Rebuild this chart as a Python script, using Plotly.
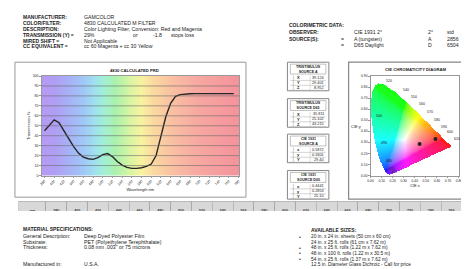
import numpy as np
import plotly.graph_objects as go

W, H = 469, 269
def px(x): return x / W
def py(y): return 1 - y / H

FONT = "Liberation Sans"

# ---------------- data ----------------
wavelengths = list(range(380, 780, 10))
transmission = [45, 51, 56, 53, 45, 37, 29, 22.5, 18.5, 16.8,
                16.2, 18, 21, 22, 19, 14, 10.5, 8.2, 7.2, 7.2,
                7.8, 9.2, 11.5, 20, 39, 59, 72.5, 79.5, 81.3, 82,
                82.2, 82.3, 82.3, 82.3, 82.3, 82.3, 82.3, 82.3, 82.3, 82.3]
xtick_vals = list(range(380, 800, 20))
ytick_vals = list(range(0, 110, 10))

# CIE 1931 spectral locus
locus_wl = [380, 400, 420, 440, 450, 460, 465, 470, 475, 480, 485, 490, 495, 500,
            505, 510, 515, 520, 525, 530, 540, 550, 560, 570, 580, 590, 600, 610,
            620, 630, 640, 650, 680, 700]
locus_x = [0.1741, 0.1733, 0.1714, 0.1644, 0.1566, 0.1440, 0.1355, 0.1241, 0.1096,
           0.0913, 0.0687, 0.0454, 0.0235, 0.0082, 0.0039, 0.0139, 0.0389, 0.0743,
           0.1142, 0.1547, 0.2296, 0.3016, 0.3731, 0.4441, 0.5125, 0.5752, 0.6270,
           0.6658, 0.6915, 0.7079, 0.7190, 0.7260, 0.7320, 0.7347]
locus_y = [0.0050, 0.0048, 0.0051, 0.0109, 0.0177, 0.0297, 0.0399, 0.0578, 0.0868,
           0.1327, 0.2007, 0.2950, 0.4127, 0.5384, 0.6548, 0.7502, 0.8120, 0.8338,
           0.8262, 0.8059, 0.7543, 0.6923, 0.6245, 0.5547, 0.4866, 0.4242, 0.3725,
           0.3340, 0.3083, 0.2920, 0.2809, 0.2740, 0.2680, 0.2653]
locus_label_wl = [460, 470, 480, 490, 500, 520, 540, 550, 560, 570, 580, 590, 600, 620]
filter_x = [0.587, 0.444]
filter_y = [0.330, 0.285]
cie_xticks = [0.0, 0.1, 0.2, 0.3, 0.4, 0.5, 0.6, 0.7, 0.8]
cie_yticks = [0.0, 0.1, 0.2, 0.3, 0.4, 0.5, 0.6, 0.7, 0.8, 0.9]

header_labels = ["MANUFACTURER:", "COLOR/FILTER:", "DESCRIPTION:",
                 "TRANSMISSION (Y) =", "MIRED SHIFT =", "CC EQUIVALENT ="]
header_values = ["GAMCOLOR", "4830 CALCULATED M FILTER",
                 "Color Lighting Filter, Conversion: Red and Magenta",
                 "29%", "Not Applicable", "cc 60 Magenta + cc 30 Yellow"]
trans_extra = ["or", "-1.8", "stops loss"]

colorim_title = "COLORIMETRIC DATA:"
colorim_rows = [("OBSERVER:", "", "CIE 1931 2°", "2°", "std"),
                ("SOURCE(S):", "=", "A (tungsten)", "A", "2856"),
                ("", "=", "D65 Daylight", "D", "6504")]

tables = [
    ("TRISTIMULUS<br>SOURCE A", ["X", "Y", "Z"], ["39.124", "29.401", "8.952"]),
    ("TRISTIMULUS<br>SOURCE D65", ["X", "Y", "Z"], ["35.811", "25.102", "43.215"]),
    ("CIE 1931<br>SOURCE A", ["x", "y", "Y"], ["0.5872", "0.3301", "29.40"]),
    ("CIE 1931<br>SOURCE D65", ["x", "y", "Y"], ["0.4441", "0.2853", "25.10"]),
]

material_title = "MATERIAL SPECIFICATIONS:"
material_rows = [("General Description:", "Deep Dyed Polyester Film"),
                 ("Substrate:", "PET (Polyethylene Terephthalate)"),
                 ("Thickness:", "0.08 mm .003\" or 75 microns")]
manufactured = ("Manufactured in:", "U.S.A.")

sizes_title = "AVAILABLE SIZES:"
sizes_rows = ["20 in. x 24 in. sheets (50 cm x 60 cm)",
              "24 in. x 25 ft. rolls (61 cm x 7.62 m)",
              "48 in. x 25 ft. rolls (1.22 m x 7.62 m)",
              "48 in. x 100 ft. rolls (1.22 m x 30.5 m)",
              "54 in. x 25 ft. rolls (1.37 m x 7.62 m)",
              "12.5 in. Diameter Glass Dichroic - Call for price"]
sizes_bullets = [True, False, True, True, True, False]

# ---------------- figure ----------------
fig = go.Figure()

# rainbow background of transmission plot
rainbow = [(372, "#b69af2"), (400, "#b09ef4"), (430, "#a7b0f6"), (460, "#a0c8f6"),
           (485, "#9fe2ee"), (505, "#a2f0d2"), (525, "#aaf1ae"), (555, "#d6f5a2"),
           (580, "#f7f3a0"), (605, "#fbd8a0"), (640, "#f9c2a2"), (690, "#f7aaa2"),
           (782, "#f4929c")]
lo, hi = 372, 782
scale = [[(w - lo) / (hi - lo), c] for w, c in rainbow]
bg_x = np.linspace(lo, hi, 206)
fig.add_trace(go.Heatmap(x=bg_x, y=[0, 100], z=[bg_x, bg_x], colorscale=scale,
                         zmin=lo, zmax=hi, showscale=False, hoverinfo="skip",
                         xaxis="x", yaxis="y"))
fig.add_trace(go.Scatter(x=wavelengths, y=transmission, mode="lines",
                         line=dict(color="#262626", width=1.4),
                         xaxis="x", yaxis="y", showlegend=False))

# CIE chromaticity image
nx, ny = 170, 190
gx = np.linspace(0, 0.8, nx)
gy = np.linspace(0, 0.9, ny)
GX, GY = np.meshgrid(gx, gy)
poly = list(zip(locus_x, locus_y))
inside = np.zeros(GX.shape, dtype=bool)
j = len(poly) - 1
for i in range(len(poly)):
    xi, yi = poly[i]
    xj, yj = poly[j]
    cond = ((yi > GY) != (yj > GY)) & (GX < (xj - xi) * (GY - yi) / (yj - yi + 1e-12) + xi)
    inside ^= cond
    j = i
yy = np.maximum(GY, 1e-4)
Xc = GX / yy
Yc = np.ones_like(GX)
Zc = (1 - GX - GY) / yy
r = 3.2406 * Xc - 1.5372 * Yc - 0.4986 * Zc
g = -0.9689 * Xc + 1.8758 * Yc + 0.0415 * Zc
b = 0.0557 * Xc - 0.2040 * Yc + 1.0570 * Zc
rgb = np.clip(np.stack([r, g, b], -1), 0, None)
rgb = rgb / np.maximum(rgb.max(axis=-1, keepdims=True), 1e-6)
rgb = np.where(rgb <= 0.0031308, 12.92 * rgb, 1.055 * rgb ** (1 / 2.4) - 0.055)
rgb = 0.9 * rgb + 0.1
rgba = np.zeros(GX.shape + (4,))
rgba[..., :3] = rgb * 255
rgba[..., 3] = inside.astype(float)
fig.add_trace(go.Image(z=rgba, colormodel="rgba", x0=0, dx=0.8 / (nx - 1),
                       y0=0, dy=0.9 / (ny - 1), xaxis="x2", yaxis="y2",
                       hoverinfo="skip"))
fig.add_trace(go.Scatter(x=filter_x, y=filter_y, mode="markers",
                         marker=dict(color="#222", size=4),
                         xaxis="x2", yaxis="y2", showlegend=False))

ann = []
for wl in locus_label_wl:
    k = locus_wl.index(wl)
    ann.append(dict(x=locus_x[k], y=locus_y[k], xref="x2", yref="y2",
                    text=str(wl), showarrow=False, xanchor="left",
                    xshift=5 if wl >= 520 else 3, yshift=2 if wl >= 520 else 0,
                    font=dict(size=3.5, color="#222", family=FONT)))

# ---------------- text ----------------
def T(x, y, text, size=5.2, bold=False, anchor="left", color="#222"):
    if bold:
        text = "<b>" + text + "</b>"
    ann.append(dict(x=px(x), y=py(y), xref="paper", yref="paper", text=text,
                    showarrow=False, xanchor=anchor, yanchor="middle",
                    font=dict(size=size, color=color, family=FONT)))

hy = [7, 13, 19, 25, 31, 37]
for k, (lab, val) in enumerate(zip(header_labels, header_values)):
    T(10, hy[k], lab, bold=True, size=5)
    T(72, hy[k], val)
T(122, hy[3], trans_extra[0])
T(142, hy[3], trans_extra[1])
T(160, hy[3], trans_extra[2])

T(280, 15, colorim_title, bold=True, size=5)
for k, row in enumerate(colorim_rows):
    yv = [22, 29, 36][k]
    T(280, yv, row[0], bold=True, size=5)
    T(332, yv, row[1])
    T(345, yv, row[2])
    T(420, yv, row[3])
    T(440, yv, row[4])

# chart titles
T(125, 61, "4830 CALCULATED PRD", size=4.2, bold=True, anchor="center")
T(410, 60, "CIE CHROMATICITY DIAGRAM", size=4.2, bold=True, anchor="center")
T(349, 118, "CIE y", size=4, anchor="center")

# material / sizes
T(10, 222, material_title, bold=True, size=5)
for k, (lab, val) in enumerate(material_rows):
    T(10, 229 + 6 * k, lab)
    T(72, 229 + 6 * k, val)
T(10, 258, manufactured[0])
T(72, 258, manufactured[1])

T(302, 223, sizes_title, bold=True, size=5)
for k, (txt, bul) in enumerate(zip(sizes_rows, sizes_bullets)):
    yv = 230 + 5.7 * k
    T(302, yv, txt, size=4.8)
    if bul:
        T(290, yv, "•", size=5)

# small tables
shapes = []
def rect(x0, y0, x1, y1, color="#888", width=0.8, fill=None):
    shapes.append(dict(type="rect", xref="paper", yref="paper", x0=px(x0), x1=px(x1),
                       y0=py(y0), y1=py(y1), line=dict(color=color, width=width),
                       fillcolor=fill or "rgba(0,0,0,0)", layer="above"))
def hline(x0, x1, y, color="#888", width=0.7):
    shapes.append(dict(type="line", xref="paper", yref="paper", x0=px(x0), x1=px(x1),
                       y0=py(y), y1=py(y), line=dict(color=color, width=width), layer="above"))
def vline(x, y0, y1, color="#888", width=0.7):
    shapes.append(dict(type="line", xref="paper", yref="paper", x0=px(x), x1=px(x),
                       y0=py(y0), y1=py(y1), line=dict(color=color, width=width), layer="above"))

tops = [53, 90, 126, 163]
for (title, labs, vals), top in zip(tables, tops):
    bot = top + 29
    rect(280, top, 322, bot, color="#777", width=0.9)
    rect(283, top + 2, 319, top + 12, color="#999", width=0.6)
    ann.append(dict(x=px(301), y=py(top + 7), xref="paper", yref="paper",
                    text="<b>" + title + "</b>", showarrow=False,
                    xanchor="center", yanchor="middle",
                    font=dict(size=3.6, color="#222", family=FONT)))
    for k, (lab, val) in enumerate(zip(labs, vals)):
        yv = top + 16 + 5 * k
        hline(283, 319, yv + 2.5, color="#aaa", width=0.5)
        T(288, yv, lab, size=4, bold=True)
        T(319, yv, val, size=3.8, anchor="right")
    vline(286, top + 13.5, bot - 1, color="#999", width=0.5)
    vline(303, top + 13.5, bot - 1, color="#bbb", width=0.5)

# chart frames
rect(4, 53, 238, 190, color="#999", width=1)
rect(342, 53, 460, 192, color="#888", width=1.2)

# gridlines over the rainbow
for v in ytick_vals[1:-1]:
    shapes.append(dict(type="line", xref="x domain", yref="y", x0=0, x1=1, y0=v, y1=v,
                       line=dict(color="#6a6a6a", width=0.6), layer="above"))

# bottom spectral table
tab_wl = wavelengths[::2]
tab_t = transmission[::2]
fig.add_trace(go.Table(
    domain=dict(x=[px(8), px(457)], y=[py(205), py(194)]),
    columnwidth=[1.3] + [1] * len(tab_wl),
    header=dict(values=["<b>nm</b>"] + [f"<b>{w}</b>" for w in tab_wl],
                height=5, fill_color="#d8d8d8", line=dict(color="#999", width=0.5),
                font=dict(size=3.6, color="#333", family=FONT), align="center"),
    cells=dict(values=[["%T"]] + [[f"{t:.1f}"] for t in tab_t],
               height=5, fill_color="#f4f4f4", line=dict(color="#999", width=0.5),
               font=dict(size=3.6, color="#333", family=FONT), align="center"),
))

fig.update_layout(
    width=W, height=H, margin=dict(l=0, r=0, t=0, b=0),
    paper_bgcolor="white", plot_bgcolor="white", showlegend=False,
    font=dict(family=FONT, color="#222"),
    annotations=ann, shapes=shapes,
    xaxis=dict(domain=[px(31), px(231)], range=[374, 781], tickvals=xtick_vals,
               tickangle=-45, tickfont=dict(size=3.5), showgrid=False, zeroline=False,
               showline=True, mirror=True, linecolor="#999", linewidth=0.8,
               ticks="outside", ticklen=1.5, tickcolor="#999",
               title=dict(text="Wavelength nm", font=dict(size=4), standoff=2)),
    yaxis=dict(domain=[py(168), py(67)], range=[0, 100], tickvals=ytick_vals,
               tickfont=dict(size=3.5), showgrid=False, zeroline=False,
               showline=True, mirror=True, linecolor="#999", linewidth=0.8,
               ticks="outside", ticklen=1.5, tickcolor="#999",
               title=dict(text="Transmission %", font=dict(size=4), standoff=2)),
    xaxis2=dict(domain=[px(363), px(455)], range=[0, 0.8], tickvals=cie_xticks,
                tickformat=".2f", tickfont=dict(size=3.3), showgrid=False, zeroline=False,
                showline=True, mirror=True, linecolor="#999", linewidth=0.8,
                ticks="outside", ticklen=1.5, tickcolor="#999", anchor="y2",
                title=dict(text="CIE x", font=dict(size=4), standoff=2)),
    yaxis2=dict(domain=[py(168), py(67)], range=[0, 0.9], autorange=False,
                tickvals=cie_yticks, tickformat=".2f", tickfont=dict(size=3.3),
                showgrid=False, zeroline=False, showline=True, mirror=True,
                linecolor="#999", linewidth=0.8, ticks="outside", ticklen=1.5,
                tickcolor="#999", anchor="x2"),
)

fig.write_html("out.html")
